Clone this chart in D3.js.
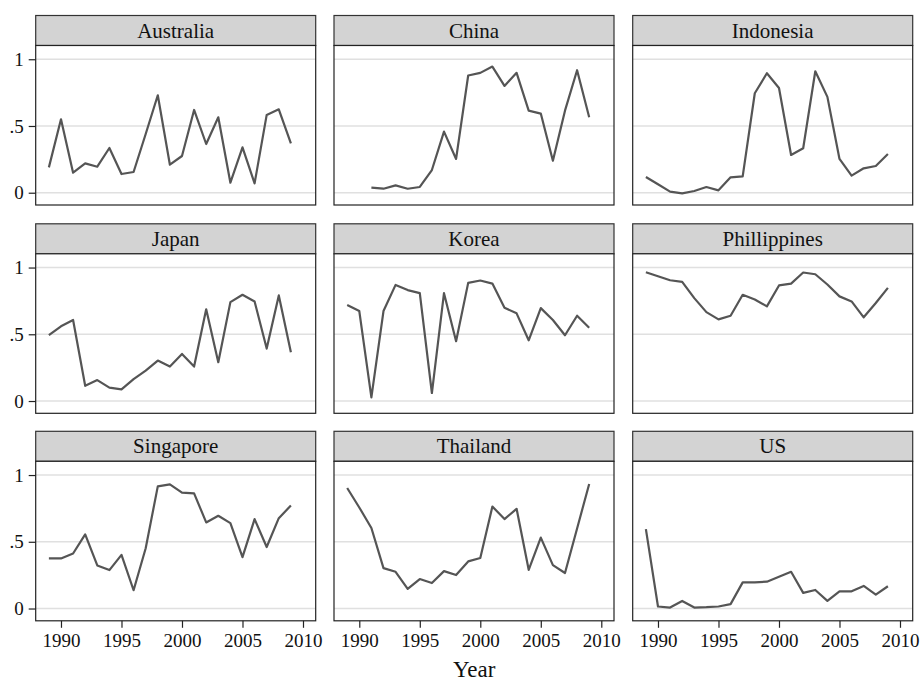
<!DOCTYPE html>
<html>
<head>
<meta charset="utf-8">
<script src="https://cdn.jsdelivr.net/npm/d3@7"></script>
<style>
  html, body { margin: 0; padding: 0; background: #fff; }
  svg { display: block; font-family: "Liberation Serif", "Times New Roman", serif; }
</style>
</head>
<body>
<svg id="chart" width="923" height="688"></svg>
<script>
// ---- data ----
const countries = ["Australia", "China", "Indonesia", "Japan", "Korea", "Phillippines", "Singapore", "Thailand", "US"];
const years = [1989,1990,1991,1992,1993,1994,1995,1996,1997,1998,1999,2000,2001,2002,2003,2004,2005,2006,2007,2008,2009];

const australia   = [0.19,0.55,0.15,0.22,0.195,0.335,0.14,0.155,0.44,0.73,0.21,0.275,0.62,0.365,0.565,0.075,0.34,0.07,0.583,0.625,0.37];
const china       = [null,null,0.038,0.03,0.055,0.03,0.043,0.17,0.458,0.253,0.878,0.898,0.945,0.80,0.898,0.615,0.593,0.24,0.615,0.918,0.565];
const indonesia   = [0.118,0.063,0.008,-0.005,0.013,0.043,0.018,0.115,0.123,0.745,0.895,0.785,0.283,0.333,0.91,0.718,0.253,0.128,0.183,0.2,0.29];
const japan       = [0.493,0.56,0.607,0.114,0.157,0.10,0.087,0.164,0.228,0.303,0.258,0.353,0.258,0.687,0.291,0.741,0.796,0.746,0.393,0.791,0.366];
const korea       = [0.719,0.674,0.027,0.674,0.87,0.831,0.808,0.06,0.808,0.448,0.885,0.903,0.88,0.699,0.657,0.455,0.696,0.607,0.493,0.639,0.549];
const philippines = [0.965,0.935,0.905,0.893,0.771,0.666,0.612,0.639,0.796,0.761,0.709,0.866,0.88,0.963,0.95,0.873,0.784,0.746,0.627,0.734,0.848];
const singapore   = [0.375,0.375,0.412,0.556,0.323,0.288,0.402,0.137,0.452,0.915,0.93,0.868,0.863,0.645,0.695,0.64,0.385,0.67,0.461,0.677,0.772];
const thailand    = [0.903,0.757,0.603,0.303,0.275,0.147,0.221,0.191,0.28,0.251,0.353,0.379,0.764,0.67,0.747,0.29,0.531,0.325,0.266,0.6,0.933];
const us          = [0.595,0.015,0.007,0.057,0.007,0.01,0.015,0.033,0.196,0.196,0.201,0.238,0.275,0.117,0.139,0.057,0.129,0.129,0.169,0.104,0.167];

const seriesValues = [australia, china, indonesia, japan, korea, philippines, singapore, thailand, us];

const yTicks = [0, 0.5, 1];
const yTickLabels = ["0", ".5", "1"];
const xTicks = [1990, 1995, 2000, 2005, 2010];
const xTickLabels = ["1990", "1995", "2000", "2005", "2010"];
const xAxisTitle = "Year";

// ---- layout ----
const svg = d3.select("#chart");
const colX = [35.7, 334, 632.7];
const panelW = 280;
const rowTop = [15.5, 223.8, 431.3];
const headerH = 30;
const plotH = 159.5;
const serif = "Liberation Serif, Times New Roman, serif";

const x = d3.scaleLinear().domain([1987.91, 2011.05]).range([0, panelW]);
const y = d3.scaleLinear().domain([-0.092, 1.103]).range([plotH, 0]);

const line = d3.line()
  .defined(d => d.v !== null)
  .x(d => x(d.year))
  .y(d => y(d.v));

countries.forEach((name, i) => {
  const col = i % 3, row = Math.floor(i / 3);
  const gx = colX[col], gy = rowTop[row];
  const g = svg.append("g").attr("transform", `translate(${gx},${gy})`);

  // header strip
  g.append("rect")
    .attr("x", 0).attr("y", 0).attr("width", panelW).attr("height", headerH)
    .attr("fill", "#d3d3d3").attr("stroke", "#333").attr("stroke-width", 1.2);
  g.append("text")
    .attr("x", panelW / 2).attr("y", headerH / 2 + 7)
    .attr("text-anchor", "middle")
    .attr("font-size", 21)
    .attr("fill", "#111")
    .text(name);

  const p = g.append("g").attr("transform", `translate(0,${headerH})`);

  p.append("rect").attr("x", 0).attr("y", 0).attr("width", panelW).attr("height", plotH)
    .attr("fill", "#fff");

  // gridlines
  p.selectAll("line.grid").data(yTicks).enter().append("line")
    .attr("class", "grid")
    .attr("x1", 0).attr("x2", panelW)
    .attr("y1", d => y(d)).attr("y2", d => y(d))
    .attr("stroke", "#e0e0e0").attr("stroke-width", 1.6);

  // data line
  const data = years.map((yr, k) => ({ year: yr, v: seriesValues[i][k] }));
  p.append("path")
    .datum(data)
    .attr("d", line)
    .attr("fill", "none")
    .attr("stroke", "#555")
    .attr("stroke-width", 2.2)
    .attr("stroke-linejoin", "round");

  // border
  p.append("rect").attr("x", 0).attr("y", 0).attr("width", panelW).attr("height", plotH)
    .attr("fill", "none").attr("stroke", "#222").attr("stroke-width", 1.2);

  if (col === 0) {
    const ya = d3.axisLeft(y).tickValues(yTicks).tickSize(7).tickPadding(5)
      .tickFormat((d, k) => yTickLabels[k]);
    const ag = p.append("g").call(ya).attr("font-family", serif);
    ag.select(".domain").remove();
    ag.selectAll("line").attr("stroke", "#222").attr("stroke-width", 1.2);
    ag.selectAll("text").attr("font-size", 19).attr("fill", "#111");
  }
  if (row === 2) {
    const xa = d3.axisBottom(x).tickValues(xTicks).tickSize(7).tickPadding(6)
      .tickFormat((d, k) => xTickLabels[k]);
    const ag = p.append("g").attr("transform", `translate(0,${plotH})`).call(xa).attr("font-family", serif);
    ag.select(".domain").remove();
    ag.selectAll("line").attr("stroke", "#222").attr("stroke-width", 1.2);
    ag.selectAll("text").attr("font-size", 19).attr("fill", "#111");
  }
});

// x axis title
svg.append("text")
  .attr("x", (colX[0] + colX[2] + panelW) / 2)
  .attr("y", 677)
  .attr("text-anchor", "middle")
  .attr("font-size", 23)
  .attr("fill", "#111")
  .text(xAxisTitle);
</script>
</body>
</html>
